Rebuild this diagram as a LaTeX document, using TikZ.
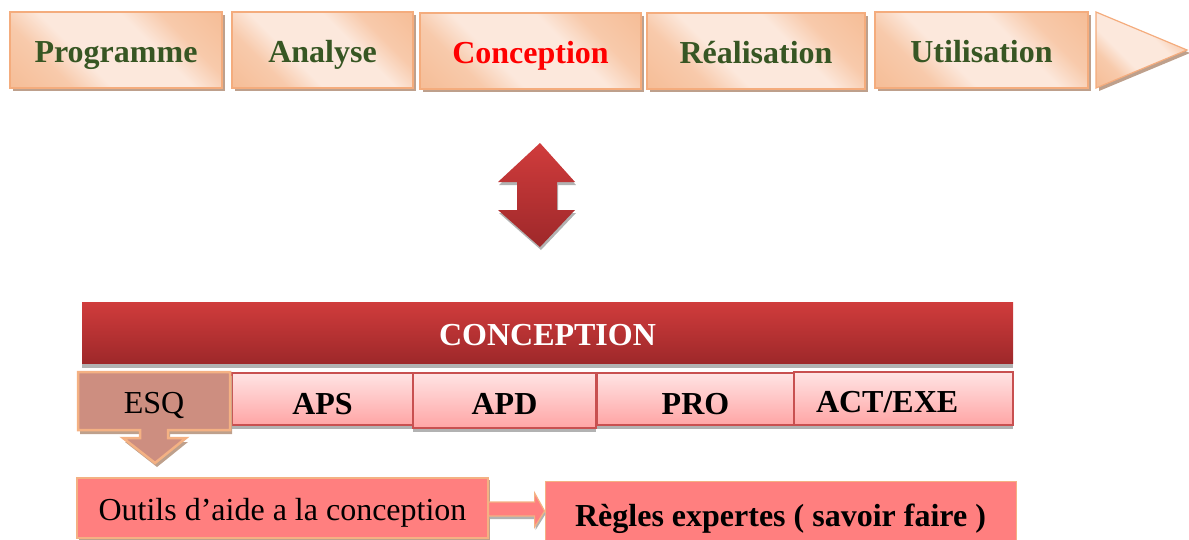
\documentclass[tikz,border=0pt]{standalone}
\usepackage{fontspec}
\setmainfont{Liberation Serif}
\usetikzlibrary{calc,shadows}
\definecolor{peachL}{RGB}{252,232,220}
\definecolor{peachD}{RGB}{244,177,131}
\definecolor{peachB}{RGB}{244,172,125}
\definecolor{shadowBr}{RGB}{190,160,140}
\definecolor{olivegreen}{RGB}{55,86,35}
\definecolor{barTop}{RGB}{208,60,60}
\definecolor{barBot}{RGB}{158,40,42}
\definecolor{rowTop}{RGB}{255,228,228}
\definecolor{rowBot}{RGB}{255,165,165}
\definecolor{rowBorder}{RGB}{200,80,80}
\definecolor{esqFill}{RGB}{205,142,128}
\definecolor{salmon}{RGB}{255,127,127}
\pgfdeclarehorizontalshading{peachshade}{100bp}{color(0bp)=(peachD); color(30bp)=(peachD!55!peachL); color(40bp)=(peachL); color(60bp)=(peachL); color(70bp)=(peachD!55!peachL); color(100bp)=(peachD)}
\newcommand\myfont{\fontsize{32}{38}\selectfont}
\begin{document}
\begin{tikzpicture}[x=1pt,y=-1pt,
  topbox/.style={draw=peachB, line width=1.2pt, shading=peachshade, shading angle=45,
    minimum height=76pt, text height=24pt, text depth=0pt, inner sep=0pt,
    font=\myfont\bfseries, text=olivegreen,
    drop shadow={shadow xshift=3pt, shadow yshift=-3pt, fill=shadowBr, opacity=1}},
  rowbox/.style={draw=rowBorder, line width=1.2pt, top color=rowTop, bottom color=rowBot,
    inner sep=0pt, text depth=0pt, font=\myfont\bfseries, text=black,
    drop shadow={shadow xshift=0pt, shadow yshift=-4pt, fill=gray!60, opacity=1}},
  salmonbox/.style={fill=salmon, draw=peachD, line width=1.2pt, inner sep=0pt, text depth=0pt,
    font=\myfont, text=black}
]
\useasboundingbox (0,0) rectangle (1189,539);

% top process chain
\node[topbox, minimum width=212pt] (prog) at (116,50) {Programme};
\node[topbox, minimum width=181pt] (ana) at (322.5,50) {Analyse};
\node[topbox, minimum width=221pt, text=red] (conc) at (530.5,51) {Conception};
\node[topbox, minimum width=218pt] (real) at (756,51) {Réalisation};
\node[topbox, minimum width=213pt] (util) at (981.5,50) {Utilisation};
\path[draw=peachB, line width=1.2pt, shading=peachshade, shading angle=45,
  drop shadow={shadow xshift=3pt, shadow yshift=-3pt, fill=shadowBr, opacity=1}]
  (1096,12) -- (1187,50) -- (1096,88) -- cycle;

% double arrow
\path[top color=barTop, bottom color=barBot,
  drop shadow={shadow xshift=1pt, shadow yshift=-3pt, fill=gray!60, opacity=1}]
  (540,143) -- (575,182) -- (557,182) -- (557,210) -- (575,210) -- (540,247)
  -- (498,210) -- (517,210) -- (517,182) -- (498,182) -- cycle;

% CONCEPTION bar
\node[top color=barTop, bottom color=barBot, minimum width=931pt, minimum height=61pt,
  inner sep=0pt, text height=25pt, text depth=0pt, font=\myfont\bfseries, text=white,
  drop shadow={shadow xshift=0pt, shadow yshift=-5pt, fill=gray!60, opacity=1}]
  (cbar) at (547.5,332.5) {CONCEPTION};

% phases row
\node[rowbox, minimum width=181pt, minimum height=52pt, text height=30pt] (aps) at (322.5,399) {APS};
\node[rowbox, minimum width=197pt, minimum height=52pt, text height=30pt] (pro) at (695.5,399) {PRO};
\node[rowbox, minimum width=219pt, minimum height=53pt, text height=27pt,
  text width=175pt, align=left, inner xsep=22pt] (act) at (903.5,398.5) {ACT/EXE};
\node[rowbox, minimum width=183pt, minimum height=55pt, text height=27pt] (apd) at (504.5,400.5) {APD};

% ESQ box with down arrow
\path[fill=esqFill, draw=peachD, line width=2.5pt, line join=miter,
  drop shadow={shadow xshift=2pt, shadow yshift=-4pt, fill=shadowBr, opacity=1}]
  (78,372) -- (230,372) -- (230,430) -- (168,430) -- (168,438) -- (186,438)
  -- (155,463) -- (123,438) -- (140,438) -- (140,430) -- (78,430) -- cycle;
\node[minimum width=152pt, minimum height=58pt, inner sep=0pt, text height=24pt,
  text depth=0pt, font=\myfont] (esq) at (154,401) {ESQ};

% bottom boxes
\node[salmonbox, minimum width=411pt, minimum height=60pt, text height=24pt,
  drop shadow={shadow xshift=2pt, shadow yshift=-2pt, fill=shadowBr, opacity=1}]
  (outils) at (282.5,508) {Outils d’aide a la conception};
\node[salmonbox, minimum width=471pt, minimum height=60pt, text height=30pt,
  font=\myfont\bfseries, line width=0.8pt] (regles) at (780.5,511) {Règles expertes ( savoir faire )};

% arrow Outils -> Regles
\path[fill=salmon, draw=peachD, line width=1.2pt,
  drop shadow={shadow xshift=1pt, shadow yshift=-3pt, fill=gray!60, opacity=1}]
  ($(outils.east)+(0,-6)$) -- ($(regles.west)+(-10,-9)$) -- ($(regles.west)+(-10,-18)$)
  -- (regles.west) -- ($(regles.west)+(-10,16)$) -- ($(regles.west)+(-10,5)$)
  -- ($(outils.east)+(0,8)$) -- cycle;
\end{tikzpicture}
\end{document}
